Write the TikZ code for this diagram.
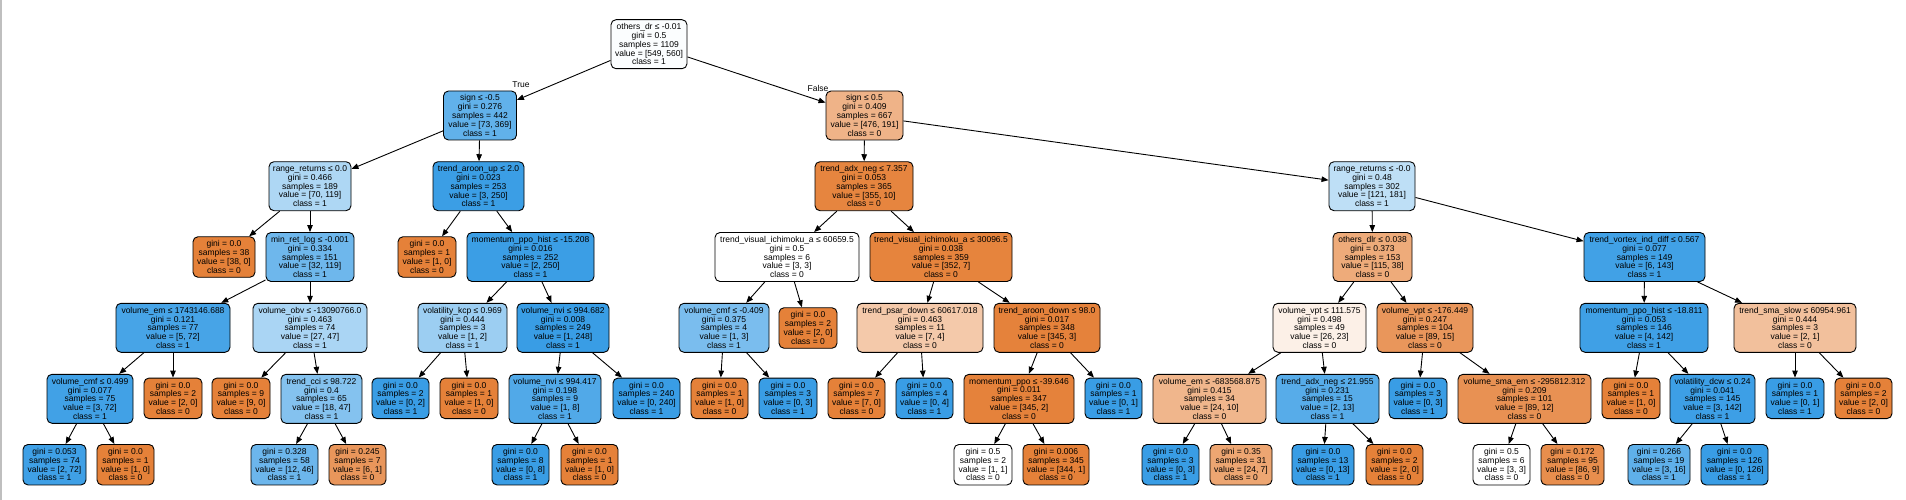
\documentclass[tikz,border=0pt]{standalone}
\usepackage{fontspec}
\setmainfont{Liberation Sans}
\usetikzlibrary{arrows.meta}
\definecolor{cO}{HTML}{E58139}
\definecolor{cB}{HTML}{399DE5}
\begin{document}
\begin{tikzpicture}[x=1pt,y=-1pt,
  box/.style={draw=black, line width=0.9pt, rounded corners=5pt, align=center,
    inner xsep=3pt, inner ysep=0pt, font=\fontsize{8.5}{8.8}\selectfont},
  inode/.style={box, minimum height=49pt},
  leaf/.style={box, minimum height=40.5pt},
  wd/.style={minimum width=#1 pt},
  edge/.style={-{Triangle[length=7pt,width=5.5pt]}, line width=0.9pt},
  lbl/.style={inner sep=0pt, font=\fontsize{8.5}{8.8}\selectfont}]
\useasboundingbox (0,0) rectangle (1906,500);
\fill[white] (0,0) rectangle (1906,500);
\draw[black!25, line width=1.5pt] (0.75,0) -- (0.75,500);
% level 0
\node[inode, wd=76, fill=cB!2!white] (n0) at (649,44.2) {others\_dr ≤ -0.01\\gini = 0.5\\samples = 1109\\value = [549, 560]\\class = 1};
% level 1
\node[inode, wd=73, fill=cB!80!white] (nA) at (480,115.5) {sign ≤ -0.5\\gini = 0.276\\samples = 442\\value = [73, 369]\\class = 1};
\node[inode, wd=77, fill=cO!60!white] (nB) at (864.5,115.5) {sign ≤ 0.5\\gini = 0.409\\samples = 667\\value = [476, 191]\\class = 0};
% level 2
\node[inode, wd=82, fill=cB!41!white] (nA1) at (310,186.2) {range\_returns ≤ 0.0\\gini = 0.466\\samples = 189\\value = [70, 119]\\class = 1};
\node[inode, wd=91, fill=cB!99!white] (nA2) at (478.5,186.2) {trend\_aroon\_up ≤ 2.0\\gini = 0.023\\samples = 253\\value = [3, 250]\\class = 1};
\node[inode, wd=98, fill=cO!97!white] (nB1) at (864,186.2) {trend\_adx\_neg ≤ 7.357\\gini = 0.053\\samples = 365\\value = [355, 10]\\class = 0};
\node[inode, wd=86, fill=cB!33!white] (nB2) at (1372,186.2) {range\_returns ≤ -0.0\\gini = 0.48\\samples = 302\\value = [121, 181]\\class = 1};
% level 3
\node[leaf, wd=62, fill=cO] (l3a) at (224,257) {gini = 0.0\\samples = 38\\value = [38, 0]\\class = 0};
\node[inode, wd=88, fill=cB!73!white] (nA1b) at (310,257) {min\_ret\_log ≤ -0.001\\gini = 0.334\\samples = 151\\value = [32, 119]\\class = 1};
\node[leaf, wd=58, fill=cO] (l3b) at (427,257) {gini = 0.0\\samples = 1\\value = [1, 0]\\class = 0};
\node[inode, wd=127, fill=cB!99!white] (nA2b) at (530.5,257) {momentum\_ppo\_hist ≤ -15.208\\gini = 0.016\\samples = 252\\value = [2, 250]\\class = 1};
\node[inode, wd=144, fill=white] (nB1a) at (787,257) {trend\_visual\_ichimoku\_a ≤ 60659.5\\gini = 0.5\\samples = 6\\value = [3, 3]\\class = 0};
\node[inode, wd=142, fill=cO!98!white] (nB1b) at (941,257) {trend\_visual\_ichimoku\_a ≤ 30096.5\\gini = 0.038\\samples = 359\\value = [352, 7]\\class = 0};
\node[inode, wd=79, fill=cO!67!white] (nB2a) at (1372.5,257) {others\_dlr ≤ 0.038\\gini = 0.373\\samples = 153\\value = [115, 38]\\class = 0};
\node[inode, wd=121, fill=cB!96!white] (nB2b) at (1644.5,257) {trend\_vortex\_ind\_diff ≤ 0.567\\gini = 0.077\\samples = 149\\value = [6, 143]\\class = 1};
% level 4
\node[inode, wd=114, fill=cB!93!white] (vem) at (173,327.8) {volume\_em ≤ 1743146.688\\gini = 0.121\\samples = 77\\value = [5, 72]\\class = 1};
\node[inode, wd=114, fill=cB!43!white] (vobv) at (310,327.8) {volume\_obv ≤ -13090766.0\\gini = 0.463\\samples = 74\\value = [27, 47]\\class = 1};
\node[inode, wd=89, fill=cB!50!white] (vkcp) at (462.5,327.8) {volatility\_kcp ≤ 0.969\\gini = 0.444\\samples = 3\\value = [1, 2]\\class = 1};
\node[inode, wd=92, fill=cB] (vnvi1) at (563,327.8) {volume\_nvi ≤ 994.682\\gini = 0.008\\samples = 249\\value = [1, 248]\\class = 1};
\node[inode, wd=90, fill=cB!67!white] (vcmf2) at (724,327.8) {volume\_cmf ≤ -0.409\\gini = 0.375\\samples = 4\\value = [1, 3]\\class = 1};
\node[leaf, wd=58, fill=cO] (l4a) at (808,328) {gini = 0.0\\samples = 2\\value = [2, 0]\\class = 0};
\node[inode, wd=126, fill=cO!43!white] (tpsar) at (920,327.8) {trend\_psar\_down ≤ 60617.018\\gini = 0.463\\samples = 11\\value = [7, 4]\\class = 0};
\node[inode, wd=106, fill=cO!99!white] (taroond) at (1047,327.8) {trend\_aroon\_down ≤ 98.0\\gini = 0.017\\samples = 348\\value = [345, 3]\\class = 0};
\node[inode, wd=93, fill=cO!12!white] (vvpt1) at (1319.5,327.8) {volume\_vpt ≤ 111.575\\gini = 0.498\\samples = 49\\value = [26, 23]\\class = 0};
\node[inode, wd=96, fill=cO!83!white] (vvpt2) at (1425,327.8) {volume\_vpt ≤ -176.449\\gini = 0.247\\samples = 104\\value = [89, 15]\\class = 0};
\node[inode, wd=128, fill=cB!97!white] (mpph2) at (1644,327.8) {momentum\_ppo\_hist ≤ -18.811\\gini = 0.053\\samples = 146\\value = [4, 142]\\class = 1};
\node[inode, wd=122, fill=cO!50!white] (tsma) at (1795,327.8) {trend\_sma\_slow ≤ 60954.961\\gini = 0.444\\samples = 3\\value = [2, 1]\\class = 0};
% level 5
\node[inode, wd=86, fill=cB!96!white] (vcmf1) at (90,398.8) {volume\_cmf ≤ 0.499\\gini = 0.077\\samples = 75\\value = [3, 72]\\class = 1};
\node[leaf, wd=58, fill=cO] (l5a) at (173,398.3) {gini = 0.0\\samples = 2\\value = [2, 0]\\class = 0};
\node[leaf, wd=58, fill=cO] (l5b) at (241,398.3) {gini = 0.0\\samples = 9\\value = [9, 0]\\class = 0};
\node[inode, wd=81, fill=cB!62!white] (tcci) at (321.5,398.8) {trend\_cci ≤ 98.722\\gini = 0.4\\samples = 65\\value = [18, 47]\\class = 1};
\node[leaf, wd=57, fill=cB] (l5c) at (400.5,398.3) {gini = 0.0\\samples = 2\\value = [0, 2]\\class = 1};
\node[leaf, wd=58, fill=cO] (l5d) at (469,398.3) {gini = 0.0\\samples = 1\\value = [1, 0]\\class = 0};
\node[inode, wd=92, fill=cB!88!white] (vnvi2) at (555,398.8) {volume\_nvi ≤ 994.417\\gini = 0.198\\samples = 9\\value = [1, 8]\\class = 1};
\node[leaf, wd=67, fill=cB] (l5e) at (646.5,398.3) {gini = 0.0\\samples = 240\\value = [0, 240]\\class = 1};
\node[leaf, wd=57, fill=cO] (l5f) at (719.5,398.3) {gini = 0.0\\samples = 1\\value = [1, 0]\\class = 0};
\node[leaf, wd=58, fill=cB] (l5g) at (788,398.3) {gini = 0.0\\samples = 3\\value = [0, 3]\\class = 1};
\node[leaf, wd=57, fill=cO] (l5h) at (856.5,398.3) {gini = 0.0\\samples = 7\\value = [7, 0]\\class = 0};
\node[leaf, wd=57, fill=cB] (l5i) at (924.5,398.3) {gini = 0.0\\samples = 4\\value = [0, 4]\\class = 1};
\node[inode, wd=110, fill=cO!99!white] (mppo) at (1019,398.8) {momentum\_ppo ≤ -39.646\\gini = 0.011\\samples = 347\\value = [345, 2]\\class = 0};
\node[leaf, wd=57, fill=cB] (l5j) at (1113.5,398.3) {gini = 0.0\\samples = 1\\value = [0, 1]\\class = 1};
\node[inode, wd=113, fill=cO!58!white] (vem2) at (1209.5,398.8) {volume\_em ≤ -683568.875\\gini = 0.415\\samples = 34\\value = [24, 10]\\class = 0};
\node[inode, wd=103, fill=cB!85!white] (tadx2) at (1327.5,398.8) {trend\_adx\_neg ≤ 21.955\\gini = 0.231\\samples = 15\\value = [2, 13]\\class = 1};
\node[leaf, wd=58, fill=cB] (l5k) at (1418,398.3) {gini = 0.0\\samples = 3\\value = [0, 3]\\class = 1};
\node[inode, wd=133, fill=cO!87!white] (vsma) at (1524.5,398.8) {volume\_sma\_em ≤ -295812.312\\gini = 0.209\\samples = 101\\value = [89, 12]\\class = 0};
\node[leaf, wd=58, fill=cO] (l5l) at (1631,398.3) {gini = 0.0\\samples = 1\\value = [1, 0]\\class = 0};
\node[inode, wd=85, fill=cB!98!white] (vdcw) at (1712.5,398.8) {volatility\_dcw ≤ 0.24\\gini = 0.041\\samples = 145\\value = [3, 142]\\class = 1};
\node[leaf, wd=58, fill=cB] (l5m) at (1795,398.3) {gini = 0.0\\samples = 1\\value = [0, 1]\\class = 1};
\node[leaf, wd=57, fill=cO] (l5n) at (1863.5,398.3) {gini = 0.0\\samples = 2\\value = [2, 0]\\class = 0};
% level 6
\node[leaf, wd=63, fill=cB!97!white] (l6a) at (54.5,464.7) {gini = 0.053\\samples = 74\\value = [2, 72]\\class = 1};
\node[leaf, wd=57, fill=cO] (l6b) at (125.5,464.7) {gini = 0.0\\samples = 1\\value = [1, 0]\\class = 0};
\node[leaf, wd=67, fill=cB!74!white] (l6c) at (284.5,464.7) {gini = 0.328\\samples = 58\\value = [12, 46]\\class = 1};
\node[leaf, wd=57, fill=cO!83!white] (l6d) at (357.5,464.7) {gini = 0.245\\samples = 7\\value = [6, 1]\\class = 0};
\node[leaf, wd=57, fill=cB] (l6e) at (520.5,464.7) {gini = 0.0\\samples = 8\\value = [0, 8]\\class = 1};
\node[leaf, wd=57, fill=cO] (l6f) at (589.5,464.7) {gini = 0.0\\samples = 1\\value = [1, 0]\\class = 0};
\node[leaf, wd=58, fill=white] (l6g) at (983,464.7) {gini = 0.5\\samples = 2\\value = [1, 1]\\class = 0};
\node[leaf, wd=66, fill=cO] (l6h) at (1056,464.7) {gini = 0.006\\samples = 345\\value = [344, 1]\\class = 0};
\node[leaf, wd=57, fill=cB] (l6i) at (1170.5,464.7) {gini = 0.0\\samples = 3\\value = [0, 3]\\class = 1};
\node[leaf, wd=62, fill=cO!71!white] (l6j) at (1241,464.7) {gini = 0.35\\samples = 31\\value = [24, 7]\\class = 0};
\node[leaf, wd=62, fill=cB] (l6k) at (1323,464.7) {gini = 0.0\\samples = 13\\value = [0, 13]\\class = 1};
\node[leaf, wd=57, fill=cO] (l6l) at (1394.5,464.7) {gini = 0.0\\samples = 2\\value = [2, 0]\\class = 0};
\node[leaf, wd=57, fill=white] (l6m) at (1501.5,464.7) {gini = 0.5\\samples = 6\\value = [3, 3]\\class = 0};
\node[leaf, wd=63, fill=cO!90!white] (l6n) at (1572.5,464.7) {gini = 0.172\\samples = 95\\value = [86, 9]\\class = 0};
\node[leaf, wd=62, fill=cB!81!white] (l6o) at (1659,464.7) {gini = 0.266\\samples = 19\\value = [3, 16]\\class = 1};
\node[leaf, wd=67, fill=cB] (l6p) at (1734.5,464.7) {gini = 0.0\\samples = 126\\value = [0, 126]\\class = 1};
% labels
\node[lbl] (tTrue) at (521,85) {True};
\node[lbl] (tFalse) at (818,88) {False};
% edges
\foreach \p/\c in {n0/nA, n0/nB, nA/nA1, nA/nA2, nB/nB1, nB/nB2,
  nA1/l3a, nA1/nA1b, nA2/l3b, nA2/nA2b, nB1/nB1a, nB1/nB1b, nB2/nB2a, nB2/nB2b,
  nA1b/vem, nA1b/vobv, nA2b/vkcp, nA2b/vnvi1, nB1a/vcmf2, nB1a/l4a, nB1b/tpsar, nB1b/taroond,
  nB2a/vvpt1, nB2a/vvpt2, nB2b/mpph2, nB2b/tsma,
  vem/vcmf1, vem/l5a, vobv/l5b, vobv/tcci, vkcp/l5c, vkcp/l5d, vnvi1/vnvi2, vnvi1/l5e,
  vcmf2/l5f, vcmf2/l5g, tpsar/l5h, tpsar/l5i, taroond/mppo, taroond/l5j,
  vvpt1/vem2, vvpt1/tadx2, vvpt2/l5k, vvpt2/vsma, mpph2/l5l, mpph2/vdcw, tsma/l5m, tsma/l5n,
  vcmf1/l6a, vcmf1/l6b, tcci/l6c, tcci/l6d, vnvi2/l6e, vnvi2/l6f, mppo/l6g, mppo/l6h,
  vem2/l6i, vem2/l6j, tadx2/l6k, tadx2/l6l, vsma/l6m, vsma/l6n, vdcw/l6o, vdcw/l6p}
  {\draw[edge] (\p) -- (\c);}
\end{tikzpicture}
\end{document}
